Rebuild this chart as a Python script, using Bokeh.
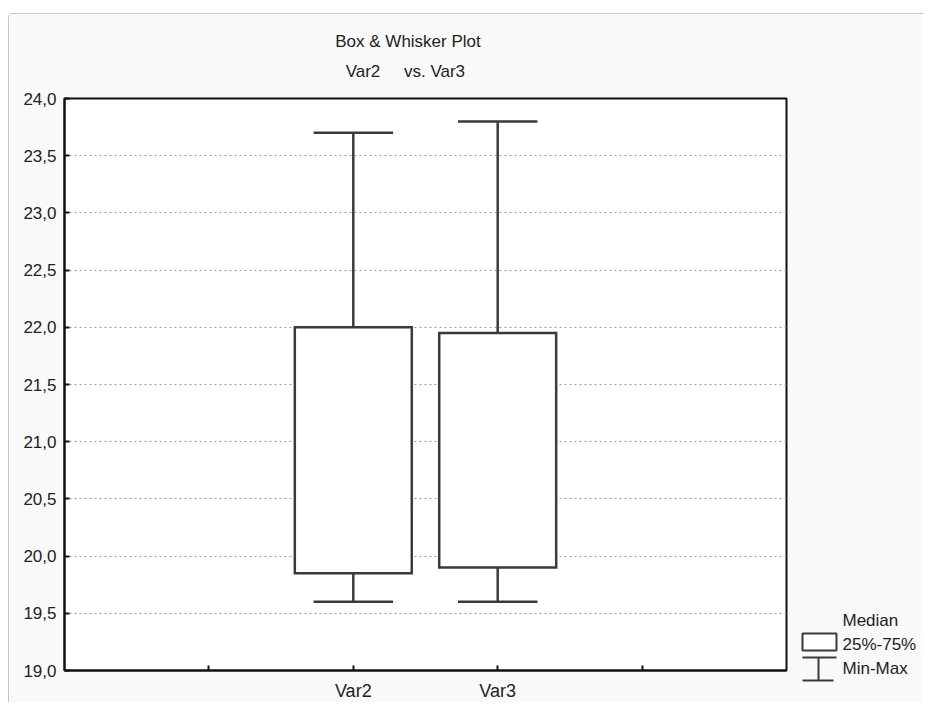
from bokeh.plotting import figure
from bokeh.models import FixedTicker, CustomJSTickFormatter, ColumnDataSource, Range1d
from bokeh.core.properties import value
from bokeh.embed import file_html
from bokeh.resources import INLINE

# ---- data ----
categories = ["Var2", "Var3"]
mins = [19.6, 19.6]
q1 = [19.85, 19.9]
q3 = [22.0, 21.95]
maxs = [23.7, 23.8]
y_ticks = [19.0, 19.5, 20.0, 20.5, 21.0, 21.5, 22.0, 22.5, 23.0, 23.5, 24.0]
x_ticks = [1, 2, 3, 4]
title_line1 = "Box & Whisker Plot"
title_line2 = ["Var2", "vs. Var3"]
legend_labels = ["Median", "25%-75%", "Min-Max"]

# ---- layout / style ----
W, H = 915, 689
positions = [i + 2 for i in range(len(categories))]
box_w = 0.81
cap_w = 0.55
FONT = "Liberation Sans"
LINE = "#3a3a3a"
TXT = "#222222"

src = ColumnDataSource(dict(
    x=positions,
    left=[x - box_w / 2 for x in positions],
    right=[x + box_w / 2 for x in positions],
    cl=[x - cap_w / 2 for x in positions],
    cr=[x + cap_w / 2 for x in positions],
    q1=q1, q3=q3, mn=mins, mx=maxs,
))

p = figure(width=W, height=H, x_range=Range1d(0, 5), y_range=Range1d(19, 24),
           output_backend="svg", toolbar_location=None,
           min_border_left=55, min_border_right=138, min_border_top=84, min_border_bottom=33,
           background_fill_color="white", border_fill_color="#f9f9f9",
           outline_line_color="#111111", outline_line_width=2,
           styles={"margin-top": "13px", "margin-left": "8px",
                   "border-top": "1px solid #c2c2c2", "border-left": "1px solid #c2c2c2",
                   "border-top-left-radius": "5px"})

# axes
p.yaxis.ticker = FixedTicker(ticks=y_ticks)
p.yaxis.formatter = CustomJSTickFormatter(code="return tick.toFixed(1).replace('.', ',');")
p.xaxis.ticker = FixedTicker(ticks=x_ticks)
p.xaxis.formatter = CustomJSTickFormatter(
    args=dict(pos=positions, cats=categories),
    code="const i = pos.indexOf(tick); return i >= 0 ? cats[i] : '';")
for ax in (p.xaxis, p.yaxis):
    ax.axis_line_color = "#111111"
    ax.axis_line_width = 2
    ax.major_tick_in = 5
    ax.major_tick_out = 0
    ax.major_tick_line_color = "#111111"
    ax.major_tick_line_width = 2
    ax.minor_tick_line_color = None
    ax.major_label_text_font = FONT
    ax.major_label_text_color = TXT
p.yaxis.major_label_text_font_size = "17px"
p.yaxis.major_label_standoff = 8
p.xaxis.major_label_text_font_size = "18px"
p.xaxis.major_label_standoff = 10

p.xgrid.visible = False
p.ygrid.grid_line_color = "#9a9a9a"
p.ygrid.grid_line_dash = "2 3"
p.ygrid.grid_line_width = 1

# whiskers
p.segment(x0="x", y0="q3", x1="x", y1="mx", source=src, line_color=LINE, line_width=2.5)
p.segment(x0="x", y0="mn", x1="x", y1="q1", source=src, line_color=LINE, line_width=2.5)
p.segment(x0="cl", y0="mx", x1="cr", y1="mx", source=src, line_color=LINE, line_width=2.5)
p.segment(x0="cl", y0="mn", x1="cr", y1="mn", source=src, line_color=LINE, line_width=2.5)
# boxes
p.quad(left="left", right="right", bottom="q1", top="q3", source=src,
       fill_color="white", line_color=LINE, line_width=2.5, line_join="miter")

# ---- transparent overlay (pixel coordinates) for the title and the legend ----
q = figure(width=W, height=H, x_range=Range1d(0, W), y_range=Range1d(H, 0),
           output_backend="svg", toolbar_location=None,
           min_border=0, x_axis_type=None, y_axis_type=None,
           background_fill_color=None, border_fill_color=None, outline_line_color=None,
           styles={"position": "absolute", "left": "9px", "top": "14px",
                   "pointer-events": "none"})
q.grid.visible = False

# title
q.text(x=[398.5], y=[27], text=[title_line1], text_font=value(FONT),
       text_font_size="17px", text_color=TXT, text_align="center", text_baseline="middle")
q.text(x=[353.5, 425], y=[57, 57], text=title_line2, text_font=value(FONT),
       text_font_size="17px", text_color=TXT, text_align="center", text_baseline="middle")

# legend
q.quad(left=[793], right=[827], top=[619], bottom=[636], fill_color="white",
       line_color=LINE, line_width=2)
q.segment(x0=[793, 809, 793], y0=[643, 643, 666], x1=[827, 809, 824], y1=[643, 666, 666],
          line_color=LINE, line_width=2)
q.text(x=[833, 833, 833], y=[606, 630, 654], text=legend_labels, text_font=value(FONT),
       text_font_size="17px", text_color=TXT, text_align="left", text_baseline="middle")

open("out.html", "w").write(file_html([p, q], INLINE))
